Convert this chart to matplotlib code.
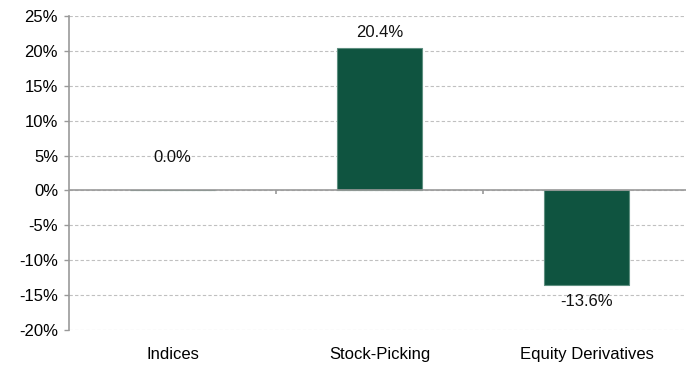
import matplotlib
matplotlib.use("Agg")
import matplotlib.pyplot as plt
from matplotlib.ticker import FuncFormatter, MultipleLocator

categories = ["Indices", "Stock-Picking", "Equity Derivatives"]
values = [0.0, 20.4, -13.6]
label_texts = ["0.0%", "20.4%", "-13.6%"]

plt.rcParams["font.family"] = ["Liberation Sans", "DejaVu Sans"]
plt.rcParams["axes.unicode_minus"] = False

fig = plt.figure(figsize=(6.86, 3.68), dpi=100)
W, H = 686, 368
ax = fig.add_axes([69 / W, (H - 330) / H, 621 / W, 314 / H])

bar_color = "#0F5440"
x = list(range(len(categories)))
ax.bar(x, values, width=0.406, color=bar_color, edgecolor="#5E8F80",
       linewidth=0.8, zorder=3)

ax.set_xlim(-0.5, 2.5)
ax.set_ylim(-20, 25)
ax.yaxis.set_major_locator(MultipleLocator(5))
ax.yaxis.set_major_formatter(FuncFormatter(lambda v, p: f"{v:.0f}%"))

ax.grid(axis="y", color="#C0C0C0", linestyle=(0, (3, 2)), linewidth=0.8, zorder=0)
ax.axhline(0, color="#999999", linewidth=1.2, zorder=4)
ax.vlines([0.5, 1.5], -0.55, 0, color="#999999", linewidth=1.2, zorder=4)

for s in ["top", "right", "bottom"]:
    ax.spines[s].set_visible(False)
ax.spines["left"].set_color("#999999")
ax.spines["left"].set_linewidth(1.2)

ax.tick_params(axis="y", length=3.6, width=1.0, color="#999999", labelsize=12, pad=4.3)
ax.set_xticks(x)
ax.set_xticklabels(categories)
ax.tick_params(axis="x", length=0, labelsize=12, pad=12)

for xi, v, t in zip(x, values, label_texts):
    if v > 0:
        off = 16
    elif v < 0:
        off = -16
    else:
        off = 33
    ax.annotate(t, (xi, v), xytext=(0, off), textcoords="offset pixels",
                ha="center", va="center", fontsize=12, color="#111111")

fig.savefig("out.png", dpi=100)
